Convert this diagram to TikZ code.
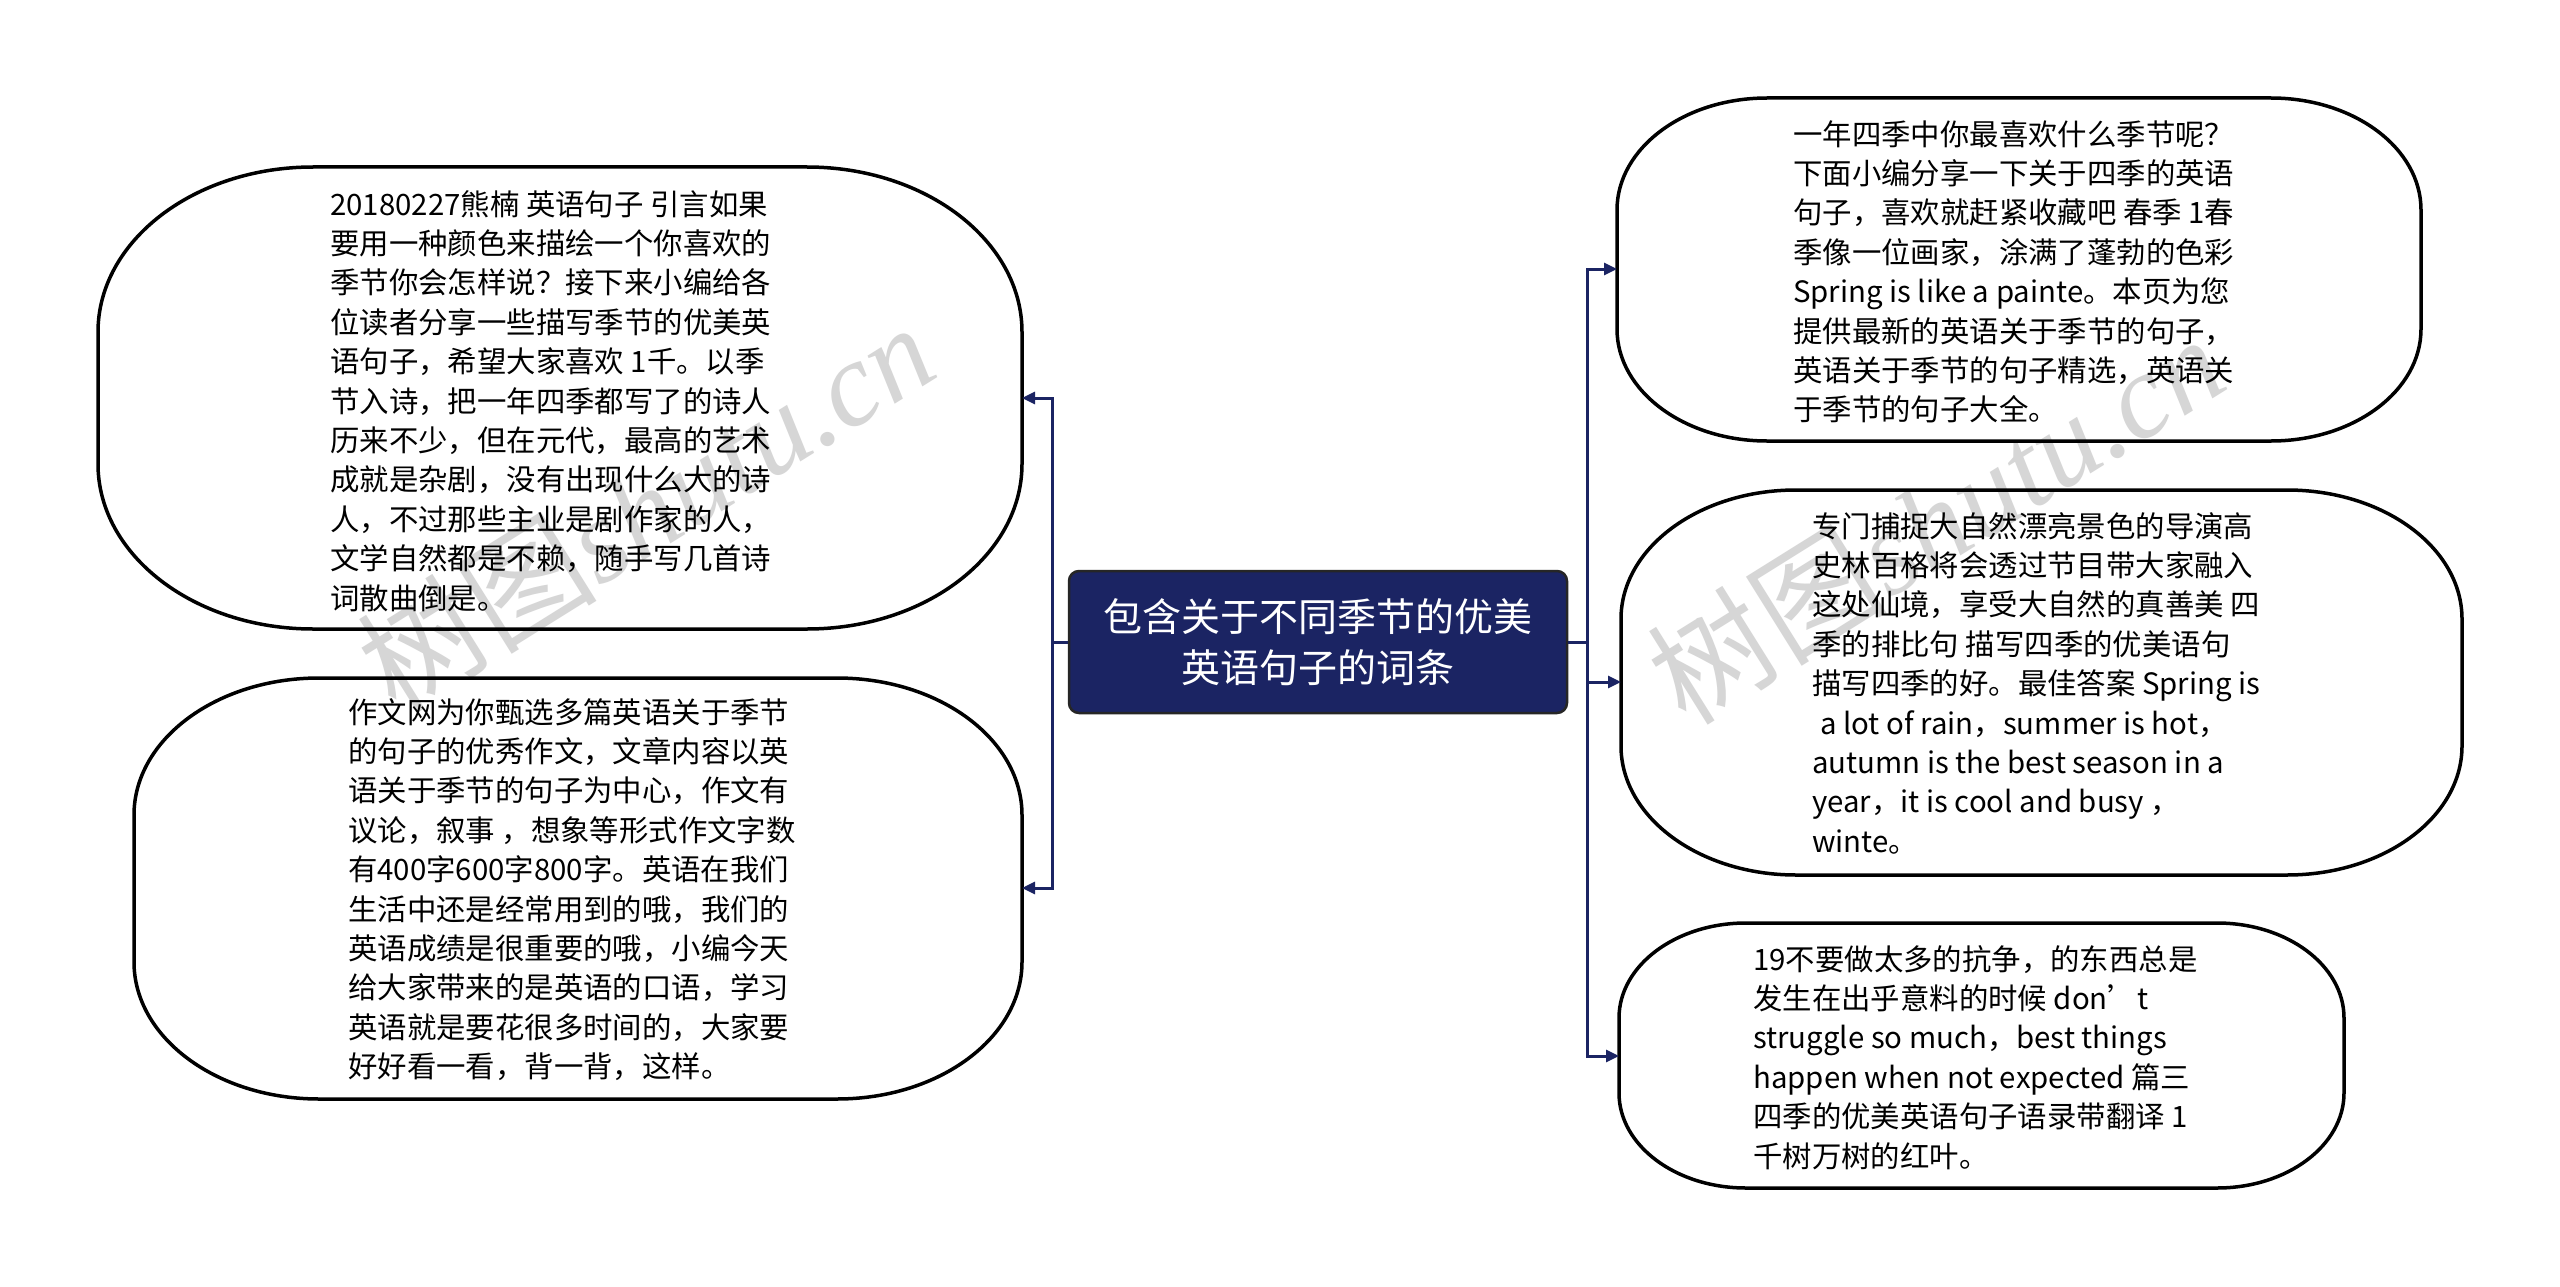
\documentclass[tikz,border=0pt]{standalone}
\usepackage{fontspec}
\setmainfont{Noto Sans CJK SC}
\newfontfamily\wmserif{Liberation Serif}
\usetikzlibrary{arrows.meta}
\definecolor{navy}{HTML}{1B2463}
\definecolor{wm}{HTML}{D6D6D6}
\newcommand{\blobpath}[6]{%
 \pgfmathsetmacro\bka{0.5523*#5}%
 \pgfmathsetmacro\bkb{0.5523*#6}%
 \draw[blob] (#1+#5,#2) -- (#3-#5,#2) .. controls (#3-#5+\bka,#2) and (#3,#2+#6-\bkb) .. (#3,#2+#6) -- (#3,#4-#6) .. controls (#3,#4-#6+\bkb) and (#3-#5+\bka,#4) .. (#3-#5,#4) -- (#1+#5,#4) .. controls (#1+#5-\bka,#4) and (#1,#4-#6+\bkb) .. (#1,#4-#6) -- (#1,#2+#6) .. controls (#1,#2+#6-\bkb) and (#1+#5-\bka,#2) .. (#1+#5,#2) -- cycle;}
\tikzset{
 blob/.style={draw=black, line width=3.5pt},
 body/.style={anchor=north west, inner sep=0pt, align=left, font=\fontsize{29.4}{39.4}\selectfont},
 conn/.style={draw=navy, line width=3pt},
 arr/.style={conn, -{Triangle[length=13pt,width=12pt]}},
 root/.style={fill=navy, draw=black!85, line width=2.5pt, rounded corners=10pt, minimum width=498pt, minimum height=142pt, text=white, align=center, font=\fontsize{39}{50.6}\selectfont, inner sep=0pt},
 wmark/.style={text=wm, rotate=32, font=\fontsize{120}{120}\selectfont, inner sep=0pt}
}
\begin{document}
\begin{tikzpicture}[x=1pt,y=-1pt]
\useasboundingbox[fill=white] (0,0) rectangle (2560,1287);
% watermarks
\node[wmark] (wm1) at (645,506) {树图{\wmserif\itshape shutu.cn}};
\node[wmark] (wm2) at (1935,518) {树图{\wmserif\itshape shutu.cn}};
% blobs
\blobpath{98}{167}{1022}{629}{215}{165}
\blobpath{134}{678}{1022}{1099}{185}{137}
\blobpath{1617}{98}{2421}{441}{150}{112}
\blobpath{1621}{490}{2462}{875}{175}{129}
\blobpath{1619}{923}{2344}{1188}{127}{95}
\coordinate (l1e) at (1022,398);
\coordinate (l2e) at (1022,888);
\coordinate (r1w) at (1617,269);
\coordinate (r2w) at (1621,682);
\coordinate (r3w) at (1619,1056);
% texts
\node[body] (t1) at (330,190) {20180227熊楠 英语句子 引言如果\\要用一种颜色来描绘一个你喜欢的\\季节你会怎样说？接下来小编给各\\位读者分享一些描写季节的优美英\\语句子，希望大家喜欢 1千。以季\\节入诗，把一年四季都写了的诗人\\历来不少，但在元代，最高的艺术\\成就是杂剧，没有出现什么大的诗\\人，不过那些主业是剧作家的人，\\文学自然都是不赖，随手写几首诗\\词散曲倒是。};
\node[body] (t2) at (348,698) {作文网为你甄选多篇英语关于季节\\的句子的优秀作文，文章内容以英\\语关于季节的句子为中心，作文有\\议论，叙事 ，想象等形式作文字数\\有400字600字800字。英语在我们\\生活中还是经常用到的哦，我们的\\英语成绩是很重要的哦，小编今天\\给大家带来的是英语的口语，学习\\英语就是要花很多时间的，大家要\\好好看一看，背一背，这样。};
\node[body] (t3) at (1793,120) {一年四季中你最喜欢什么季节呢？\\下面小编分享一下关于四季的英语\\句子，喜欢就赶紧收藏吧 春季 1春\\季像一位画家，涂满了蓬勃的色彩\\Spring is like a painte。本页为您\\提供最新的英语关于季节的句子，\\英语关于季节的句子精选，英语关\\于季节的句子大全。};
\node[body] (t4) at (1812,512) {专门捕捉大自然漂亮景色的导演高\\史林百格将会透过节目带大家融入\\这处仙境，享受大自然的真善美 四\\季的排比句 描写四季的优美语句\\描写四季的好。最佳答案 Spring is\\\hspace*{8pt}a lot of rain，summer is hot，\\autumn is the best season in a\\year，it is cool and busy ，\\winte。};
\node[body] (t5) at (1753,945) {19不要做太多的抗争，的东西总是\\发生在出乎意料的时候 don’t\\struggle so much，best things\\happen when not expected 篇三\\四季的优美英语句子语录带翻译 1\\千树万树的红叶。};
% root
\node[root] (root) at (1318,642) {包含关于不同季节的优美\\英语句子的词条};
% connectors
\coordinate (jl) at (1052,642);
\coordinate (jr) at (1587,642);
\draw[conn] (root.west) -- (jl);
\draw[arr] (jl) |- (l1e);
\draw[arr] (jl) |- (l2e);
\draw[conn] (root.east) -- (jr);
\draw[arr] (jr) |- (r1w);
\draw[arr] (jr) |- (r2w);
\draw[arr] (jr) |- (r3w);
\end{tikzpicture}
\end{document}
